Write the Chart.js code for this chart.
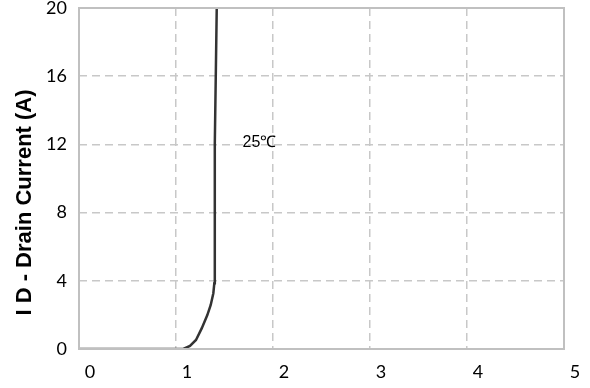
<!DOCTYPE html>
<html>
<head>
<meta charset="utf-8">
<script src="https://cdn.jsdelivr.net/npm/chart.js@4.4.1/dist/chart.umd.min.js"></script>
<style>
  html, body { margin: 0; padding: 0; background: #fff; }
  #wrap { width: 590px; height: 388px; }
</style>
</head>
<body>
<div id="wrap"><canvas id="chart" width="590" height="388"></canvas></div>
<script>
  // Transfer curve (VGS in V, ID in A)
  var gateVolts = [0, 0.5, 1.0, 1.075, 1.144, 1.206, 1.265, 1.323, 1.358, 1.385, 1.395, 1.398, 1.402, 1.41, 1.42];
  var drainAmps = [0, 0, 0, 0, 0.18, 0.53, 1.21, 1.99, 2.58, 3.27, 3.85, 8, 12, 16, 20];
  var xTicks = [0, 1, 2, 3, 4, 5];
  var yTicks = [0, 4, 8, 12, 16, 20];
  var yTitle = 'I D - Drain Current (A)';
  var curveLabel = '25℃';
  var curveLabelAt = [1.86, 12.1];

  var points = gateVolts.map(function (v, i) {
    return { x: v, y: drainAmps[i] };
  });

  var gridColor = '#c8c8c8';
  var borderColor = '#c0c0c0';

  var annotate = {
    id: 'annotate',
    afterDatasetsDraw: function (chart) {
      var ctx = chart.ctx;
      var xs = chart.scales.x, ys = chart.scales.y;
      var a = chart.chartArea;
      ctx.save();
      ctx.font = '16px Arial, "Liberation Sans", sans-serif';
      ctx.fillStyle = '#000';
      ctx.textAlign = 'center';
      ctx.textBaseline = 'middle';
      ctx.fillText(curveLabel, xs.getPixelForValue(curveLabelAt[0]), ys.getPixelForValue(curveLabelAt[1]));
      // solid frame round the plot
      ctx.strokeStyle = borderColor;
      ctx.lineWidth = 2;
      ctx.strokeRect(a.left, a.top, a.right - a.left, a.bottom - a.top);
      // axis title, sits a bit below the plot's middle like the original
      ctx.translate(a.left - 54, (a.top + a.bottom) / 2 + 24);
      ctx.rotate(-Math.PI / 2);
      ctx.font = 'bold 22px Arial, "Liberation Sans", sans-serif';
      ctx.fillText(yTitle, 0, 0);
      ctx.restore();
    }
  };

  var ctx = document.getElementById('chart').getContext('2d');
  new Chart(ctx, {
    type: 'scatter',
    data: {
      datasets: [{
        data: points,
        showLine: true,
        borderColor: '#333333',
        borderWidth: 2.5,
        pointRadius: 0,
        tension: 0,
        fill: false
      }]
    },
    options: {
      responsive: false,
      animation: false,
      layout: { padding: { top: 8, right: 26, left: 0, bottom: 0 } },
      plugins: {
        legend: { display: false },
        tooltip: { enabled: false }
      },
      scales: {
        x: {
          type: 'linear',
          min: 0,
          max: 5,
          afterBuildTicks: function (s) { s.ticks = xTicks.map(function (v) { return { value: v }; }); },
          afterFit: function (s) { s.height = 39; s.paddingLeft = 0; s.paddingRight = 0; },
          grid: {
            color: gridColor,
            lineWidth: 1.5,
            drawTicks: false
          },
          border: { display: false, dash: [8, 5] },
          ticks: {
            color: '#000',
            padding: 12,
            labelOffset: 11,
            maxRotation: 0,
            font: { family: 'Lato, "Open Sans", sans-serif', size: 18 }
          }
        },
        y: {
          type: 'linear',
          min: 0,
          max: 20,
          afterBuildTicks: function (s) { s.ticks = yTicks.map(function (v) { return { value: v }; }); },
          afterFit: function (s) { s.width = 79; s.paddingTop = 0; s.paddingBottom = 0; },
          grid: {
            color: gridColor,
            lineWidth: 1.5,
            drawTicks: false
          },
          border: { display: false, dash: [8, 5] },
          ticks: {
            color: '#000',
            padding: 12,
            font: { family: 'Lato, "Open Sans", sans-serif', size: 18 }
          }
        }
      }
    },
    plugins: [annotate]
  });
</script>
</body>
</html>
